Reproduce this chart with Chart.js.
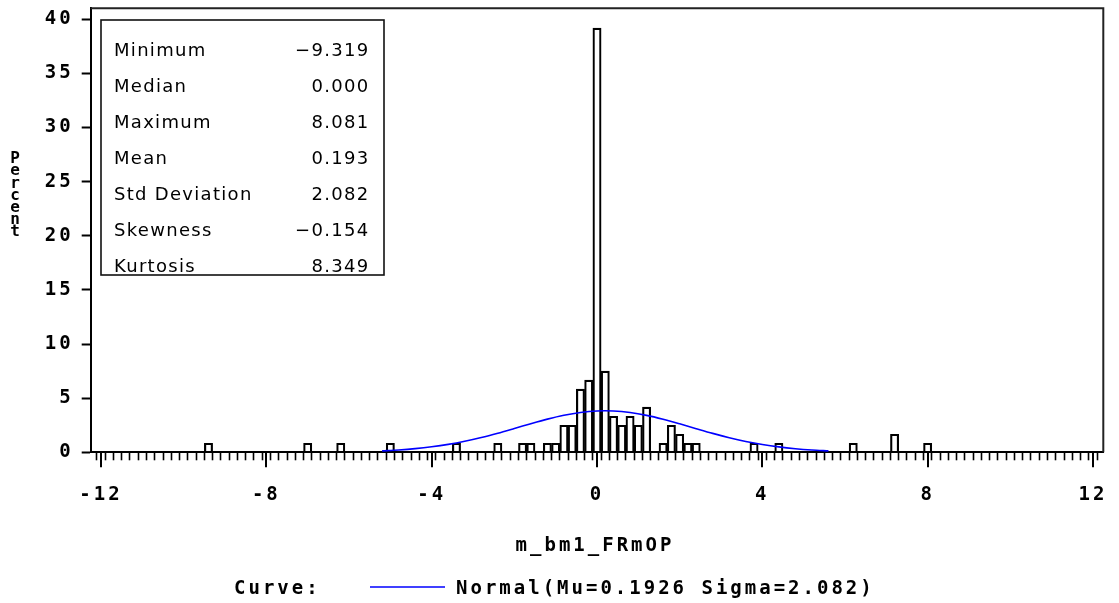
<!DOCTYPE html>
<html>
<head>
<meta charset="utf-8">
<script src="https://cdn.jsdelivr.net/npm/chart.js@4.4.1/dist/chart.umd.min.js"></script>
<style>
html,body{margin:0;padding:0;background:#fff;}
canvas{display:block;}
</style>
</head>
<body>
<canvas id="c" width="1119" height="603"></canvas>
<script>
// ---- data ----
const binMidpoints = [-9.4, -7.0, -6.2, -5.0, -3.4, -2.4, -1.8, -1.6, -1.2, -1.0, -0.8, -0.6, -0.4, -0.2, 0.0,
                      0.2, 0.4, 0.6, 0.8, 1.0, 1.2, 1.6, 1.8, 2.0, 2.2, 2.4, 3.8, 4.4, 6.2, 7.2, 8.0];
const binPercents  = [0.833, 0.833, 0.833, 0.833, 0.833, 0.833, 0.833, 0.833, 0.833, 0.833, 2.5, 2.5, 5.833, 6.667, 39.167,
                      7.5, 3.333, 2.5, 3.333, 2.5, 4.167, 0.833, 2.5, 1.667, 0.833, 0.833, 0.833, 0.833, 0.833, 1.667, 0.833];
const curveX = [-5.2, -4.8, -4.4, -4.0, -3.6, -3.2, -2.8, -2.4, -2.0, -1.6, -1.2, -0.8, -0.4, 0.0,
                0.4, 0.8, 1.2, 1.6, 2.0, 2.4, 2.8, 3.2, 3.6, 4.0, 4.4, 4.8, 5.2, 5.6];
const curveY = [0.134, 0.216, 0.336, 0.505, 0.729, 1.016, 1.364, 1.765, 2.201, 2.645, 3.064, 3.420, 3.680, 3.816,
                3.813, 3.672, 3.409, 3.049, 2.629, 2.184, 1.749, 1.350, 1.004, 0.720, 0.497, 0.331, 0.212, 0.131];
const xMajorTicks = [-12, -8, -4, 0, 4, 8, 12];
const xTickLabels = ['-12', '-8', '-4', '0', '4', '8', '12'];
const statLabels = ['Minimum', 'Median', 'Maximum', 'Mean', 'Std Deviation', 'Skewness', 'Kurtosis'];
const statValues = ['\u22129.319', '0.000', '8.081', '0.193', '2.082', '\u22120.154', '8.349'];
const xTitle = 'm_bm1_FRmOP';
const yTitle = 'Percent';
const legendLead = 'Curve:';
const legendText = 'Normal(Mu=0.1926 Sigma=2.082)';

const MONO = '"DejaVu Sans Mono", "Liberation Mono", monospace';
const SANS = '"DejaVu Sans", "Liberation Sans", sans-serif';

const decorPlugin = {
  id: 'decor',
  beforeDraw(chart) {
    chart.ctx.letterSpacing = '3px';
  },
  afterDraw(chart) {
    const ctx = chart.ctx;
    const ca = chart.chartArea;
    const xs = chart.scales.x;
    ctx.save();
    // frame top and right
    ctx.strokeStyle = '#222';
    ctx.lineWidth = 2;
    ctx.beginPath();
    ctx.moveTo(ca.left, ca.top);
    ctx.lineTo(ca.right, ca.top);
    ctx.lineTo(ca.right, ca.bottom);
    ctx.stroke();
    // longer major ticks
    ctx.strokeStyle = '#000';
    ctx.lineWidth = 2;
    xMajorTicks.forEach(v => {
      const px = Math.round(xs.getPixelForValue(v));
      ctx.beginPath();
      ctx.moveTo(px, ca.bottom);
      ctx.lineTo(px, ca.bottom + 15);
      ctx.stroke();
    });
    // stats inset
    ctx.lineWidth = 1.6;
    ctx.strokeStyle = '#111';
    ctx.strokeRect(101, 20, 283, 255);
    ctx.fillStyle = '#000';
    ctx.font = '18px ' + SANS;
    ctx.letterSpacing = '1.3px';
    ctx.textBaseline = 'middle';
    statLabels.forEach((lab, i) => {
      const y = 51 + 36.1 * i;
      ctx.textAlign = 'left';
      ctx.fillText(lab, 114, y);
      ctx.textAlign = 'right';
      ctx.fillText(statValues[i], 369.5, y);
    });
    // y title (stacked letters)
    ctx.font = 'bold 16px ' + MONO;
    ctx.letterSpacing = '0px';
    ctx.textAlign = 'center';
    yTitle.split('').forEach((ch, i) => {
      ctx.fillText(ch, 15, 159 + 12.2 * i);
    });
    // x title
    ctx.font = 'bold 19px ' + MONO;
    ctx.letterSpacing = '3px';
    ctx.textAlign = 'center';
    ctx.fillText(xTitle, (ca.left + ca.right) / 2 - 2, 546);
    // legend
    ctx.textAlign = 'left';
    ctx.fillText(legendLead, 234, 589);
    ctx.fillText(legendText, 456, 589);
    ctx.strokeStyle = '#0000ff';
    ctx.lineWidth = 1.6;
    ctx.beginPath();
    ctx.moveTo(370, 587);
    ctx.lineTo(445, 587);
    ctx.stroke();
    ctx.restore();
  }
};

new Chart(document.getElementById('c'), {
  type: 'bar',
  data: {
    datasets: [
      {
        type: 'line',
        data: curveX.map((x, i) => ({x: x, y: curveY[i]})),
        borderColor: '#0000ff',
        borderWidth: 1.6,
        pointRadius: 0,
        tension: 0.3,
        fill: false,
        order: 1
      },
      {
        type: 'bar',
        data: binMidpoints.map((x, i) => ({x: x, y: binPercents[i]})),
        backgroundColor: 'rgba(255,255,255,0)',
        borderColor: '#000',
        borderWidth: 1.5,
        categoryPercentage: 1,
        barPercentage: 1,
        order: 2
      }
    ]
  },
  options: {
    responsive: false,
    devicePixelRatio: 1,
    animation: false,
    layout: {padding: {left: 0, right: 15.7, top: 8.3, bottom: 0}},
    plugins: {legend: {display: false}, tooltip: {enabled: false}, title: {display: false}},
    scales: {
      x: {
        type: 'linear',
        offset: false,
        min: -12.25,
        max: 12.25,
        afterBuildTicks(scale) {
          scale.ticks = scale.ticks.filter(t => t.value >= -12.0001 && t.value <= 12.0001);
        },
        afterFit(scale) {
          scale.height = 150.7;
          scale.paddingLeft = 0;
          scale.paddingRight = 0;
        },
        ticks: {
          stepSize: 0.2,
          autoSkip: false,
          maxRotation: 0,
          minRotation: 0,
          padding: 23,
          color: '#000',
          font: {family: MONO, size: 19, weight: 'bold'},
          callback(v) {
            const idx = xMajorTicks.findIndex(m => Math.abs(m - v) < 1e-6);
            return idx >= 0 ? xTickLabels[idx] : '';
          }
        },
        grid: {display: true, drawOnChartArea: false, drawTicks: true, tickLength: 8, tickWidth: 1.6, tickColor: '#000'},
        border: {display: true, color: '#000', width: 2}
      },
      y: {
        type: 'linear',
        min: 0,
        max: 41,
        afterFit(scale) {
          scale.width = 90.7;
          scale.paddingTop = 0;
          scale.paddingBottom = 0;
        },
        ticks: {
          stepSize: 5,
          includeBounds: false,
          padding: 8,
          color: '#000',
          font: {family: MONO, size: 19, weight: 'bold'}
        },
        grid: {display: true, drawOnChartArea: false, drawTicks: true, tickLength: 9, tickWidth: 2, tickColor: '#000'},
        border: {display: true, color: '#000', width: 2}
      }
    }
  },
  plugins: [decorPlugin]
});
</script>
</body>
</html>
